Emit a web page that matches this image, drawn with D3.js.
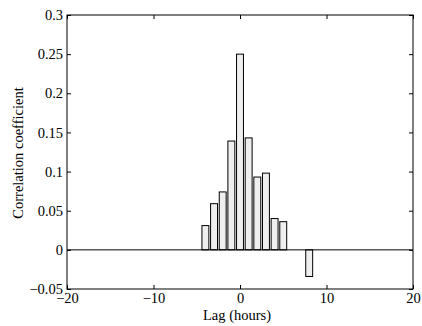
<!DOCTYPE html>
<html>
<head>
<meta charset="utf-8">
<script src="https://cdn.jsdelivr.net/npm/d3@7"></script>
<style>
  body { margin: 0; background: #fff; }
  text { font-family: "Liberation Serif", "Times New Roman", serif; }
</style>
</head>
<body>
<div class="chart"></div>
<script>
// Data
var lags = [-4, -3, -2, -1, 0, 1, 2, 3, 4, 5, 8];
var corr = [0.031, 0.059, 0.074, 0.139, 0.250, 0.143, 0.093, 0.098, 0.040, 0.036, -0.034];
var xTicks = [-20, -10, 0, 10, 20];
var yTicks = [-0.05, 0, 0.05, 0.1, 0.15, 0.2, 0.25, 0.3];

var svgWidth = 422;
var svgHeight = 326;
var margin = { top: 15, bottom: 37, left: 67, right: 9 };
var width = svgWidth - margin.left - margin.right;
var height = svgHeight - margin.top - margin.bottom;
var fontSize = 14.5;

var svg = d3.select(".chart")
            .append("svg")
            .attr("width", svgWidth)
            .attr("height", svgHeight);

var chartGroup = svg.append("g")
                    .attr("transform", `translate(${margin.left}, ${margin.top})`);

var x = d3.scaleLinear().domain([-20, 20]).range([0, width]);
var y = d3.scaleLinear().domain([-0.05, 0.3]).range([height, 0]);

var fmt = function(d) { return d === 0 ? "0" : String(+d.toFixed(2)).replace("-", "\u2212"); };

// bars (MATLAB default width 0.8)
var barW = x(0.8) - x(0);
chartGroup.selectAll("rect.bar")
          .data(lags)
          .enter()
          .append("rect")
          .attr("class", "bar")
          .attr("x", (d) => x(d) - barW / 2)
          .attr("y", (d, i) => y(Math.max(0, corr[i])))
          .attr("width", barW)
          .attr("height", (d, i) => Math.abs(y(corr[i]) - y(0)))
          .attr("fill", "#efefef")
          .attr("stroke", "#000")
          .attr("stroke-width", 1);

// baseline
chartGroup.append("line")
          .attr("x1", 0).attr("x2", width)
          .attr("y1", y(0)).attr("y2", y(0))
          .attr("stroke", "#000");

// axes
var bottomAxis = d3.axisBottom(x).tickValues(xTicks).tickSize(-4).tickPadding(4).tickFormat(fmt);
var topAxis = d3.axisTop(x).tickValues(xTicks).tickSize(-4).tickFormat("");
var leftAxis = d3.axisLeft(y).tickValues(yTicks).tickSize(-4).tickPadding(4).tickFormat(fmt);
var rightAxis = d3.axisRight(y).tickValues(yTicks).tickSize(-4).tickFormat("");

function style(g) {
  g.select(".domain").remove();
  g.selectAll("text").attr("font-size", fontSize).attr("fill", "#000")
   .style("font-family", "Liberation Serif, serif");
  g.selectAll("line").attr("stroke", "#000");
}

chartGroup.append("g").attr("transform", `translate(0, ${height})`).call(bottomAxis).call(style);
chartGroup.append("g").call(topAxis).call(style);
chartGroup.append("g").call(leftAxis).call(style);
chartGroup.append("g").attr("transform", `translate(${width}, 0)`).call(rightAxis).call(style);

// frame
chartGroup.append("rect")
          .attr("width", width).attr("height", height)
          .attr("fill", "none").attr("stroke", "#000").attr("stroke-width", 1);

// labels
svg.append("text")
   .attr("x", 237)
   .attr("y", 320)
   .attr("text-anchor", "middle")
   .attr("font-size", fontSize)
   .text("Lag (hours)");

svg.append("text")
   .attr("transform", `translate(23, 153) rotate(-90)`)
   .attr("text-anchor", "middle")
   .attr("font-size", fontSize)
   .text("Correlation coefficient");
</script>
</body>
</html>
